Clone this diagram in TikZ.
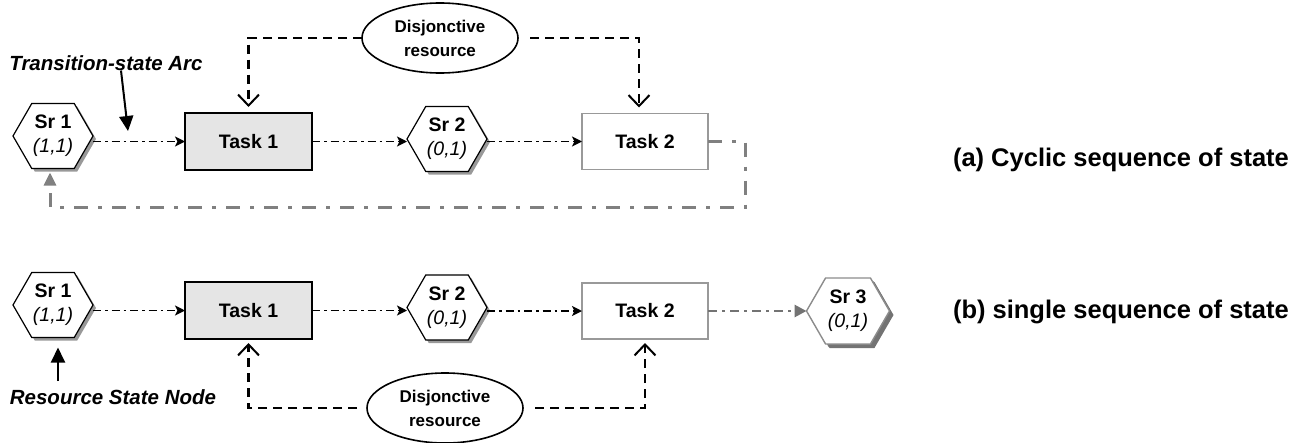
\documentclass[tikz,border=0pt]{standalone}
\usepackage{fontspec}
\setmainfont{Liberation Sans}
\usetikzlibrary{shapes.symbols,shapes.geometric,arrows.meta,shadows}
\begin{document}
\begin{tikzpicture}[x=1pt,y=-1pt,
  every node/.style={inner sep=0pt, outer sep=0pt},
  state/.style={shape=signal, signal to=west and east, signal pointer angle=120,
    draw=black, line width=1.2pt, fill=white,
    minimum width=80pt, minimum height=65pt, align=center,
    font=\fontsize{19.5}{24}\selectfont,
    drop shadow={shadow xshift=3pt, shadow yshift=-3pt, fill=black!40, opacity=1}},
  laststate/.style={state, draw=black!45, line width=1.4pt,
    minimum width=83pt, minimum height=66pt,
    drop shadow={shadow xshift=4pt, shadow yshift=-4pt, fill=black!55, opacity=1}},
  taskbusy/.style={draw=black, line width=2pt, fill=black!10,
    minimum width=127pt, minimum height=57pt,
    font=\bfseries\fontsize{19.5}{22}\selectfont},
  taskfree/.style={draw=black!40, line width=1.5pt, fill=white,
    minimum width=126pt, minimum height=56pt,
    font=\bfseries\fontsize{19.5}{22}\selectfont},
  resource/.style={ellipse, draw=black, line width=1.6pt,
    minimum width=156pt, minimum height=70pt,
    align=center, font=\bfseries\fontsize{17}{24}\selectfont},
  flow/.style={line width=1.8pt, dash pattern=on 8pt off 4pt on 2.5pt off 4pt,
    -{Stealth[length=10pt,width=10pt,inset=2.5pt]}},
  loopback/.style={line width=3pt, draw=black!50,
    dash pattern=on 14pt off 10pt on 4pt off 10pt,
    -{Triangle[length=13pt,width=12pt]}},
  greyflow/.style={line width=2.8pt, draw=black!55,
    dash pattern=on 9pt off 5pt on 3pt off 5pt,
    -{Triangle[length=12pt,width=12pt]}},
  claim/.style={line width=2.3pt, dash pattern=on 9pt off 6pt,
    -{Straight Barb[length=11pt,width=21pt,line width=2pt]}},
  pointer/.style={line width=2pt, -{Triangle[length=15pt,width=14pt]}},
  caption/.style={anchor=west, font=\bfseries\fontsize{25.5}{28}\selectfont},
]
\useasboundingbox (0,0) rectangle (1306,442);

% ---------- (a) cyclic sequence of states ----------
\node[resource] (a-res) at (440,38) {Disjonctive\\resource};
\node[font=\bfseries\itshape\fontsize{20.5}{24}\selectfont] (a-arc) at (106,63) {Transition-state Arc};
\coordinate (a-arctip) at (128,131);
\coordinate (a-corner) at (745,207);

\node[taskbusy] (a-t1) at (248.5,141.5) {Task 1};
\node[taskfree] (a-t2) at (645,141.5) {Task 2};
\node[state] (a-sr1) at (53,136) {\textbf{Sr 1}\\\textit{(1,1)}};
\node[state] (a-sr2) at (447,139) {\textbf{Sr 2}\\\textit{(0,1)}};

\draw[flow] (a-sr1.east |- a-t1.west) -- (a-t1.west);
\draw[flow] (a-t1.east) -- (a-sr2.west |- a-t1.east);
\draw[flow] (a-sr2.east |- a-t2.west) -- (a-t2.west);

\draw[claim, shorten >=6pt] (a-res.west) -| (a-t1.north);
\draw[claim, shorten <=12pt, shorten >=6pt] (a-res.east) -| ([xshift=-6pt]a-t2.north);

\draw[loopback, shorten >=4pt] (a-t2.east) -| (a-corner) -| ([xshift=-3pt]a-sr1.south);

\draw[pointer] ([xshift=15pt]a-arc.south) -- (a-arctip);

\node[caption] (a-cap) at (953,160) {(a) Cyclic sequence of state};

% ---------- (b) single sequence of states ----------
\node[taskbusy] (b-t1) at (248.5,310.5) {Task 1};
\node[taskfree] (b-t2) at (645,311) {Task 2};
\node[state] (b-sr1) at (53,305) {\textbf{Sr 1}\\\textit{(1,1)}};
\node[state] (b-sr2) at (447,307.5) {\textbf{Sr 2}\\\textit{(0,1)}};
\node[laststate] (b-sr3) at (848,311) {\textbf{Sr 3}\\\textit{(0,1)}};
\node[resource] (b-res) at (445,408) {Disjonctive\\resource};
\node[font=\bfseries\itshape\fontsize{20.5}{24}\selectfont] (b-node) at (113,397) {Resource State Node};
\coordinate (b-nodetail) at (58,381);

\draw[flow] (b-sr1.east |- b-t1.west) -- (b-t1.west);
\draw[flow] (b-t1.east) -- (b-sr2.west |- b-t1.east);
\draw[flow] (b-sr2.east |- b-t2.west) -- (b-t2.west);
\draw[greyflow] (b-t2.east) -- (b-sr3.west |- b-t2.east);

\draw[claim, shorten <=10pt, shorten >=4pt] (b-res.west) -| (b-t1.south);
\draw[claim, shorten <=12pt, shorten >=4pt] (b-res.east) -| (b-t2.south);

\draw[pointer, shorten >=10pt] (b-nodetail) -- (b-nodetail |- b-sr1.south);

\node[caption] (b-cap) at (953,312) {(b) single sequence of state};
\end{tikzpicture}
\end{document}
